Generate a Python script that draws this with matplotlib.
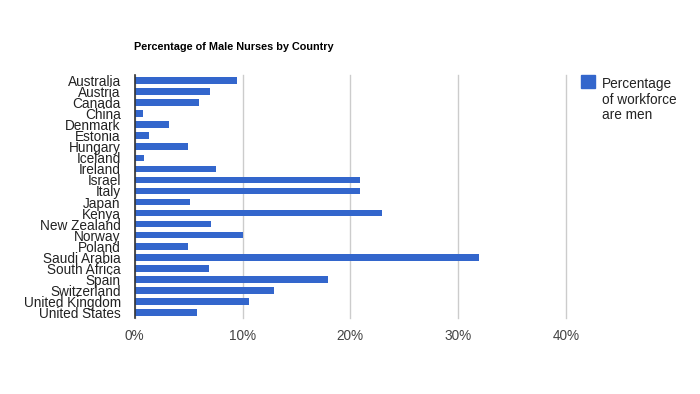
import matplotlib
matplotlib.use("Agg")
import matplotlib.pyplot as plt
from matplotlib.ticker import FuncFormatter
from matplotlib.patches import Rectangle

countries = ["Australia", "Austria", "Canada", "China", "Denmark", "Estonia",
             "Hungary", "Iceland", "Ireland", "Israel", "Italy", "Japan", "Kenya",
             "New Zealand", "Norway", "Poland", "Saudi Arabia", "South Africa",
             "Spain", "Switzerland", "United Kingdom", "United States"]
values = [9.5, 7.0, 6.0, 0.8, 3.2, 1.3, 4.9, 0.9, 7.5, 20.9, 20.9, 5.1, 22.9,
          7.1, 10.0, 4.9, 31.9, 6.9, 17.9, 12.9, 10.6, 5.8]
xticks = [0, 10, 20, 30, 40]
title = "Percentage of Male Nurses by Country"
legend_label = "Percentage\nof workforce\nare men"

plt.rcParams['font.family'] = ['Liberation Sans', 'DejaVu Sans']

fig = plt.figure(figsize=(7, 3.94), dpi=100)
ax = fig.add_axes([134.7 / 700, 1 - 318 / 394, (566 - 134.7) / 700, (318 - 75) / 394])

n = len(countries)
ypos = list(range(n))
ax.barh(ypos, values, height=0.6, color="#3366CC", zorder=3)
ax.set_ylim(n - 0.5, -0.5)
ax.set_xlim(0, 40)
ax.set_xticks(xticks)
ax.xaxis.set_major_formatter(FuncFormatter(lambda v, p: f"{int(v)}%"))
ax.set_yticks(ypos)
ax.set_yticklabels(countries, fontsize=9.8, color="#222222")
ax.tick_params(axis='y', length=0, pad=10)
ax.tick_params(axis='x', length=0, pad=8, labelsize=9.8, labelcolor="#444444")
for s in ["top", "right", "bottom"]:
    ax.spines[s].set_visible(False)
ax.spines["left"].set_color("#333333")
ax.spines["left"].set_linewidth(1.2)
ax.spines["left"].set_zorder(4)
ax.grid(axis='x', color="#cccccc", linewidth=1, zorder=0)
for gl in ax.get_xgridlines():
    gl.set_clip_on(False)

fig.text(134 / 700, 1 - 47 / 394, title, fontsize=7.8, fontweight='bold',
         color="#000000", ha='left', va='center')

fig.patches.append(Rectangle((581 / 700, 1 - 88 / 394), 14 / 700, 13 / 394,
                             transform=fig.transFigure, color="#3366CC"))
fig.text(602 / 700, 1 - 77 / 394, legend_label, fontsize=9.8, color="#222222",
         ha='left', va='top', linespacing=1.15)

fig.savefig("out.png", dpi=100)
